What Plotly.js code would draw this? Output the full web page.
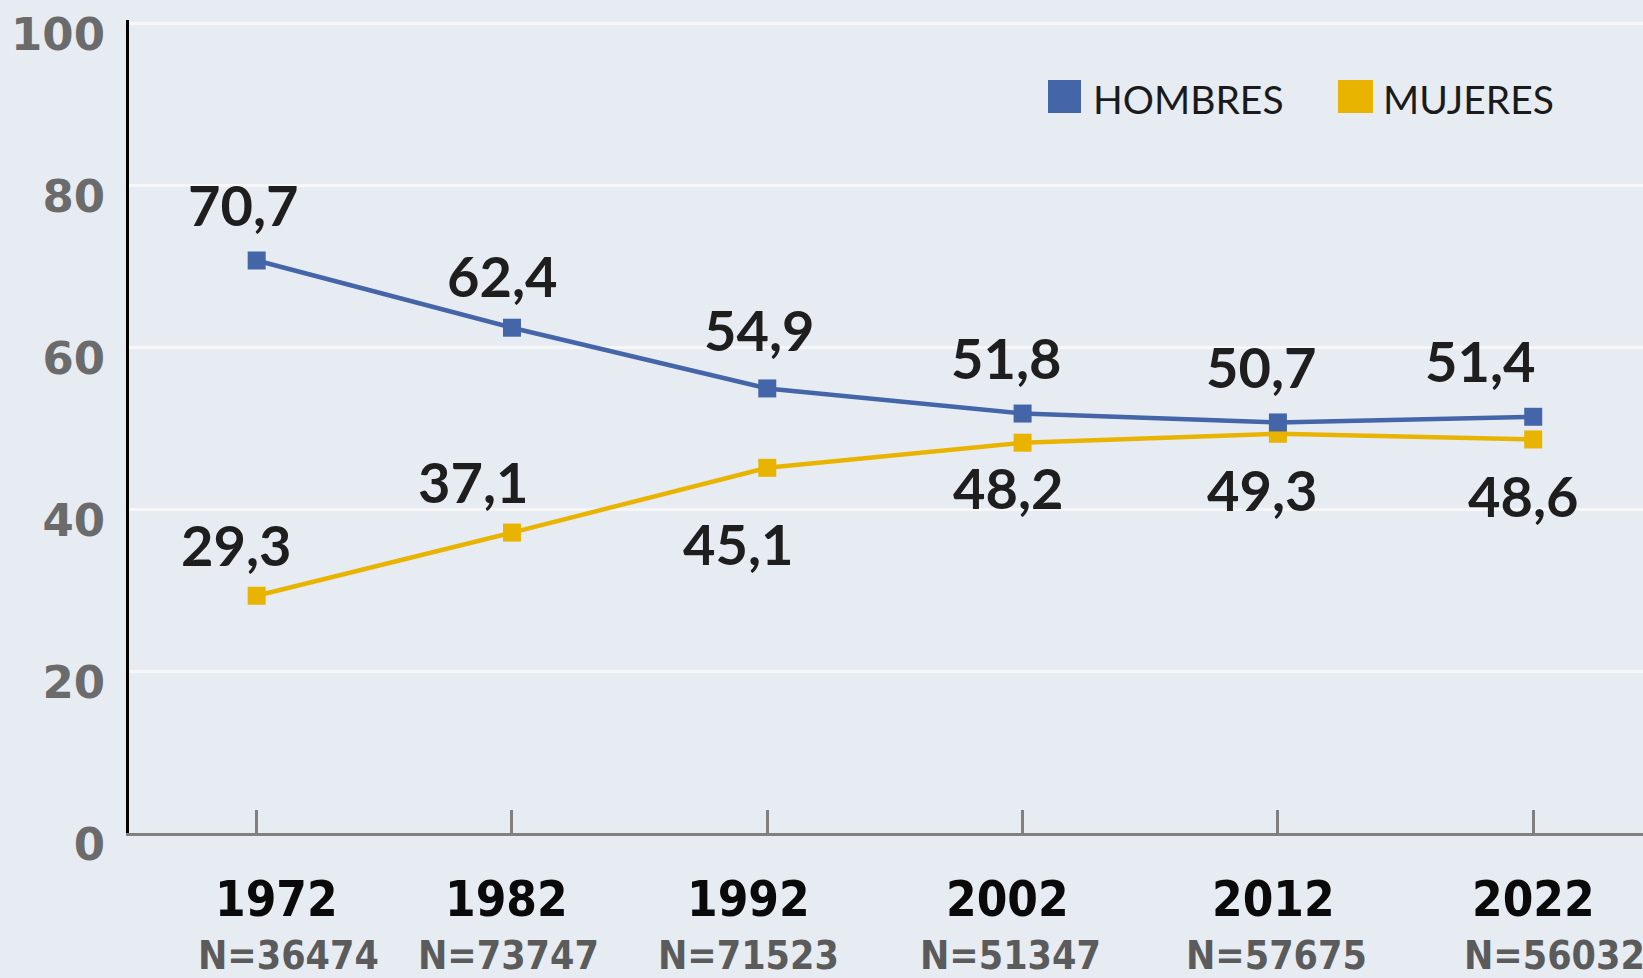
<!DOCTYPE html>
<html>
<head>
<meta charset="utf-8">
<script src="https://cdn.plot.ly/plotly-3.0.1.min.js"></script>
<style>
  html, body { margin: 0; padding: 0; background: #e7ecf3; }
  #chart { width: 1643px; height: 978px; }
</style>
</head>
<body>
<div id="chart"></div>
<script>
// ---- data ----
const years = [1972, 1982, 1992, 2002, 2012, 2022];
const sampleLabels = ['N=36474', 'N=73747', 'N=71523', 'N=51347', 'N=57675', 'N=56032'];
const hombres = [70.7, 62.4, 54.9, 51.8, 50.7, 51.4];
const mujeres = [29.3, 37.1, 45.1, 48.2, 49.3, 48.6];
const seriesNames = ['HOMBRES', 'MUJERES'];
const yTicks = [0, 20, 40, 60, 80, 100];

// ---- style ----
const BLUE = '#4565a9';
const YELLOW = '#e8b400';
const fmt = v => v.toFixed(1).replace('.', ',');

// label offsets (pixels) relative to marker
const hOff = [[-13, -56], [-9, -52], [-8, -59], [-16, -56], [-16, -56], [-53, -56]];
const mOff = [[-20, -51], [-38, -51], [-29, 76], [-14, 45], [-15, 56], [-10, 56]];
const yearShift = [20, -5, -19, -15, -4, 0];
const nShift = [32, -3, -19, -12, -1, 21];

const traces = [
  {
    x: years, y: mujeres, name: seriesNames[1], type: 'scatter', mode: 'lines+markers',
    line: {color: YELLOW, width: 4.5}, marker: {symbol: 'square', size: 18, color: YELLOW},
    showlegend: false, hoverinfo: 'skip'
  },
  {
    x: years, y: hombres, name: seriesNames[0], type: 'scatter', mode: 'lines+markers',
    line: {color: BLUE, width: 4.5}, marker: {symbol: 'square', size: 18, color: BLUE},
    showlegend: false, hoverinfo: 'skip'
  }
];

const labelFont = {family: 'Lato, "Open Sans", sans-serif', size: 56, color: '#1e1e1e', weight: 700};
const condFont = '"DejaVu Sans Condensed", "DejaVu Sans", sans-serif';
const annotations = [];
years.forEach((yr, i) => {
  annotations.push({x: yr, y: hombres[i], xref: 'x', yref: 'y', text: fmt(hombres[i]), showarrow: false,
    xanchor: 'center', yanchor: 'middle', xshift: hOff[i][0], yshift: -hOff[i][1], font: labelFont});
  annotations.push({x: yr, y: mujeres[i], xref: 'x', yref: 'y', text: fmt(mujeres[i]), showarrow: false,
    xanchor: 'center', yanchor: 'middle', xshift: mOff[i][0], yshift: -mOff[i][1], font: labelFont});
  annotations.push({x: yr, y: 0, xref: 'x', yref: 'paper', text: '<b>' + yr + '</b>', showarrow: false,
    xanchor: 'center', yanchor: 'middle', xshift: yearShift[i], yshift: -66,
    font: {family: condFont, size: 49, color: '#0a0a0a'}});
  annotations.push({x: yr, y: 0, xref: 'x', yref: 'paper', text: '<b>' + sampleLabels[i] + '</b>', showarrow: false,
    xanchor: 'center', yanchor: 'middle', xshift: nShift[i], yshift: -122,
    font: {family: condFont, size: 39, color: '#5b5b5b'}});
});

// legend built from shapes + text (plot area: x 129..1643, y 20..833)
const L = 129, W = 1514, B = 833, H = 813;
const px = v => (v - L) / W;
const py = v => (B - v) / H;
const legendFont = {family: 'Lato, "Open Sans", sans-serif', size: 39, color: '#1a1a1a'};
const shapes = [
  {type: 'rect', xref: 'paper', yref: 'paper', x0: px(1048), x1: px(1081), y0: py(113), y1: py(80),
    fillcolor: BLUE, line: {width: 0}},
  {type: 'rect', xref: 'paper', yref: 'paper', x0: px(1338), x1: px(1373), y0: py(113), y1: py(80),
    fillcolor: YELLOW, line: {width: 0}}
];
annotations.push({x: px(1091), y: py(99), xref: 'paper', yref: 'paper', text: seriesNames[0], showarrow: false,
  xanchor: 'left', yanchor: 'middle', font: legendFont});
annotations.push({x: px(1381), y: py(99), xref: 'paper', yref: 'paper', text: seriesNames[1], showarrow: false,
  xanchor: 'left', yanchor: 'middle', font: legendFont});

const layout = {
  width: 1643, height: 978,
  margin: {l: L, r: 0, t: 20, b: 145},
  paper_bgcolor: '#e7ecf3',
  plot_bgcolor: '#e7ecf3',
  showlegend: false,
  xaxis: {
    range: [1967, 2026.3], tickvals: years, showticklabels: false,
    ticks: 'inside', ticklen: 23, tickwidth: 3, tickcolor: '#808080',
    showline: true, linecolor: '#808080', linewidth: 3,
    showgrid: false, zeroline: false, fixedrange: true
  },
  yaxis: {
    range: [0, 100.4], tickvals: yTicks, ticktext: yTicks.map(String),
    ticks: '', showline: true, linecolor: '#000000', linewidth: 3,
    showgrid: true, gridcolor: '#f7f7f7', gridwidth: 3, zeroline: false,
    tickfont: {family: '"DejaVu Sans", sans-serif', size: 45, color: '#6b6b6b', weight: 700},
    ticklabelstandoff: 12, ticklabelshift: 11, fixedrange: true
  },
  annotations: annotations,
  shapes: shapes
};

Plotly.newPlot('chart', traces, layout, {staticPlot: true});
</script>
</body>
</html>
